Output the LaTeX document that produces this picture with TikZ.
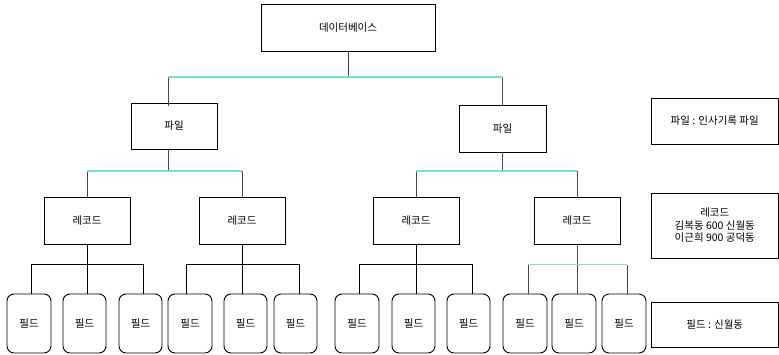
\documentclass[tikz,border=0pt]{standalone}
\usepackage{fontspec}
\setmainfont{Noto Sans CJK KR}
\usetikzlibrary{calc}
\definecolor{busteal}{RGB}{118,226,198}
\definecolor{edgegray}{RGB}{70,70,70}
\tikzset{
  box/.style={draw=black, line width=0.9pt, rectangle, inner sep=0pt, font=\fontsize{10.5}{12.5}\selectfont},
  fieldbox/.style={box, rounded corners=7pt},
  wire/.style={draw=edgegray, line width=0.8pt},
  bus/.style={draw=busteal, line width=1.3pt},
  blackbus/.style={draw=black, line width=0.8pt},
}
\begin{document}
\begin{tikzpicture}[x=1pt, y=-1pt]
\useasboundingbox (0,0) rectangle (779,355);

% top level
\node[box, minimum width=174pt, minimum height=47pt] (db) at (348,27.5) {데이터베이스};

% files
\node[box, minimum width=86pt, minimum height=46pt] (file1) at (174,126) {파일};
\node[box, minimum width=87pt, minimum height=47pt] (file2) at (502.5,128.5) {파일};

% records
\node[box, minimum width=86pt, minimum height=47pt] (rec1) at (87,220.5) {레코드};
\node[box, minimum width=86pt, minimum height=47pt] (rec2) at (242,220.5) {레코드};
\node[box, minimum width=86pt, minimum height=47pt] (rec3) at (416,220.5) {레코드};
\node[box, minimum width=86pt, minimum height=47pt] (rec4) at (577,220.5) {레코드};

% fields
\foreach \n/\cx/\w in {1/29/44, 2/84.5/43, 3/140.5/43, 4/190/44, 5/245.5/43, 6/295.5/43,
                       7/357/44, 8/413.5/43, 9/468.5/43, 10/525/44, 11/574/44, 12/624/44}
  \node[fieldbox, minimum width=\w pt, minimum height=59pt] (fld\n) at (\cx,323.5) {필드};

% legend boxes
\node[box, minimum width=127.5pt, minimum height=46pt] (leg1) at (714.75,121) {파일 : 인사기록 파일};
\node[box, minimum width=127.5pt, minimum height=65pt, align=center,
      font=\fontsize{10.5}{12.5}\selectfont] (leg2) at (714.75,225.5)
      {레코드\\김복동 600 신월동\\이근희 900 공덕동};
\node[box, minimum width=127.5pt, minimum height=45pt] (leg3) at (714.75,324.5) {필드 : 신월동};

% database -> files
\coordinate (t1) at ($(file1.north)+(-6,0)$);
\draw[wire] (db.south) -- (db.south |- 0,77);
\draw[wire] (t1 |- 0,77) -- ($(t1)+(0,3)$);
\draw[wire] (file2.north |- 0,77) -- (file2.north);
\draw[bus] (t1 |- 0,77) -- (file2.north |- 0,77);

% files -> records
\coordinate (s1) at ($(file1.south)+(-6,0)$);
\draw[wire] (s1) -- (s1 |- 0,171);
\draw[wire] (rec1.north |- 0,171) -- (rec1.north);
\draw[wire] (rec2.north |- 0,171) -- (rec2.north);
\draw[bus] (rec1.north |- 0,171) -- (rec2.north |- 0,171);

\draw[wire] (file2.south) -- (file2.south |- 0,171);
\draw[wire] (rec3.north |- 0,171) -- (rec3.north);
\draw[wire] (rec4.north |- 0,171) -- (rec4.north);
\draw[bus] (rec3.north |- 0,171) -- (rec4.north |- 0,171);

% records -> fields
\draw[blackbus] ($(fld1.north)+(2,0)$) |- ($(fld3.north)+(2.5,-29)$) -- ($(fld3.north)+(2.5,0)$);
\draw[blackbus] (rec1.south) -- (rec1.south |- fld2.north);

\draw[blackbus] ($(fld4.north)+(-4,0)$) |- ($(fld6.north)+(3.5,-29)$) -- ($(fld6.north)+(3.5,0)$);
\draw[blackbus] (rec2.south) -- (rec2.south |- fld5.north);

\draw[blackbus] ($(fld7.north)+(2,0)$) |- ($(fld9.north)+(3.5,-29)$) -- ($(fld9.north)+(3.5,0)$);
\draw[blackbus] (rec3.south) -- (rec3.south |- fld8.north);

\draw[wire] ($(fld10.north)+(3,0)$) -- ($(fld10.north)+(3,-29)$);
\draw[wire] ($(fld12.north)+(3,0)$) -- ($(fld12.north)+(3,-29)$);
\draw[wire] (rec4.south) -- (rec4.south |- fld11.north);
\draw[bus] ($(fld10.north)+(3,-29)$) -- ($(fld12.north)+(3,-29)$);
\end{tikzpicture}
\end{document}
